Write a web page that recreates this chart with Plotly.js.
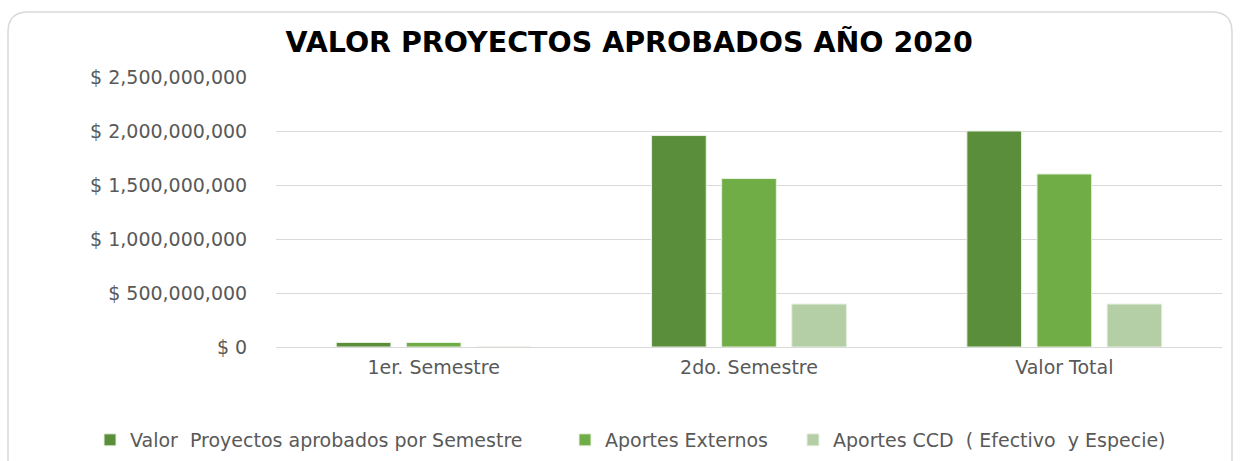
<!DOCTYPE html>
<html>
<head>
<meta charset="utf-8">
<script src="https://cdn.plot.ly/plotly-3.0.1.min.js"></script>
<style>
  html, body { margin: 0; padding: 0; background: #ffffff; }
  #chart { width: 1241px; height: 461px; }
</style>
</head>
<body>
<div id="chart"></div>
<script>
const categories = ["1er. Semestre", "2do. Semestre", "Valor Total"];
const seriesNames = [
  "Valor  Proyectos aprobados por Semestre",
  "Aportes Externos",
  "Aportes CCD  ( Efectivo  y Especie)"
];
const valorProyectos = [42000000, 1958000000, 2000000000];
const aportesExternos = [42000000, 1560000000, 1602000000];
const aportesCCD = [0, 398000000, 398000000];
const yTickValues = [0, 500000000, 1000000000, 1500000000, 2000000000, 2500000000];
const yTickLabels = ["$ 0", "$ 500,000,000", "$ 1,000,000,000", "$ 1,500,000,000", "$ 2,000,000,000", "$ 2,500,000,000"];

const colors = ["#5B8E3A", "#70AD47", "#B4CFA6"];
const seriesValues = [valorProyectos, aportesExternos, aportesCCD];
const legendIds = ["legend", "legend2", "legend3"];

const traces = seriesValues.map((vals, i) => ({
  type: "bar",
  name: seriesNames[i],
  x: categories,
  y: vals,
  legend: legendIds[i],
  marker: { color: colors[i], line: { color: "#E8F1E1", width: 1 } },
  hoverinfo: "x+y+name"
}));

// plot area in pixels: left 276, right 1222, top 77, bottom 347
const L = 276, R = 1222, T = 77, B = 347;
const W = R - L, H = B - T;
const px = x => (x - L) / W;
const py = y => (B - y) / H;
const bx0 = 8, bx1 = 1232, by0 = 12, by1 = 480, rad = 20;
const rx = rad / W, ry = rad / H;
const path = [
  `M ${px(bx0) + rx},${py(by0)}`,
  `L ${px(bx1) - rx},${py(by0)}`,
  `Q ${px(bx1)},${py(by0)} ${px(bx1)},${py(by0) - ry}`,
  `L ${px(bx1)},${py(by1)}`,
  `L ${px(bx0)},${py(by1)}`,
  `L ${px(bx0)},${py(by0) - ry}`,
  `Q ${px(bx0)},${py(by0)} ${px(bx0) + rx},${py(by0)}`,
  "Z"
].join(" ");

const legendBase = {
  orientation: "h",
  xref: "container", yref: "container",
  xanchor: "left",
  y: 1 - 440 / 461, yanchor: "middle",
  font: { size: 19, color: "#595959" },
  itemclick: false,
  itemdoubleclick: false
};
const legendLeft = [90, 565, 793];

const layout = {
  width: 1241,
  height: 461,
  margin: { l: L, r: 1241 - R, t: T, b: 461 - B, pad: 0 },
  paper_bgcolor: "#ffffff",
  plot_bgcolor: "#ffffff",
  font: { family: "DejaVu Sans, sans-serif", color: "#595959", size: 18 },
  title: {
    text: "<b>VALOR PROYECTOS APROBADOS AÑO 2020</b>",
    font: { family: "DejaVu Sans, sans-serif", size: 28.5, color: "#000000" },
    xref: "container", yref: "container",
    x: 0.507, xanchor: "center",
    y: 1 - 42 / 461, yanchor: "middle"
  },
  barmode: "group",
  bargap: 0.333,
  bargroupgap: 0.22,
  xaxis: {
    type: "category",
    showgrid: false,
    showline: false,
    ticks: "outside",
    ticklen: 3,
    tickcolor: "rgba(0,0,0,0)",
    tickfont: { size: 19, color: "#595959" },
    automargin: false
  },
  yaxis: {
    range: [0, 2500000000],
    tickmode: "array",
    tickvals: yTickValues,
    ticktext: yTickLabels,
    showgrid: true,
    gridcolor: "#D9D9D9",
    gridwidth: 1,
    zeroline: true,
    zerolinecolor: "#D9D9D9",
    zerolinewidth: 1,
    showline: false,
    ticks: "outside",
    ticklen: 24,
    tickcolor: "rgba(0,0,0,0)",
    tickfont: { size: 19, color: "#595959" },
    automargin: false
  },
  showlegend: true,
  legend: Object.assign({}, legendBase, { x: legendLeft[0] / 1241 }),
  legend2: Object.assign({}, legendBase, { x: legendLeft[1] / 1241 }),
  legend3: Object.assign({}, legendBase, { x: legendLeft[2] / 1241 }),
  shapes: [{
    type: "path",
    xref: "paper", yref: "paper",
    path: path,
    line: { color: "#D9D9D9", width: 1.5 },
    fillcolor: "rgba(0,0,0,0)",
    layer: "below"
  }]
};

Plotly.newPlot("chart", traces, layout, { displayModeBar: false, responsive: false });
</script>
</body>
</html>
